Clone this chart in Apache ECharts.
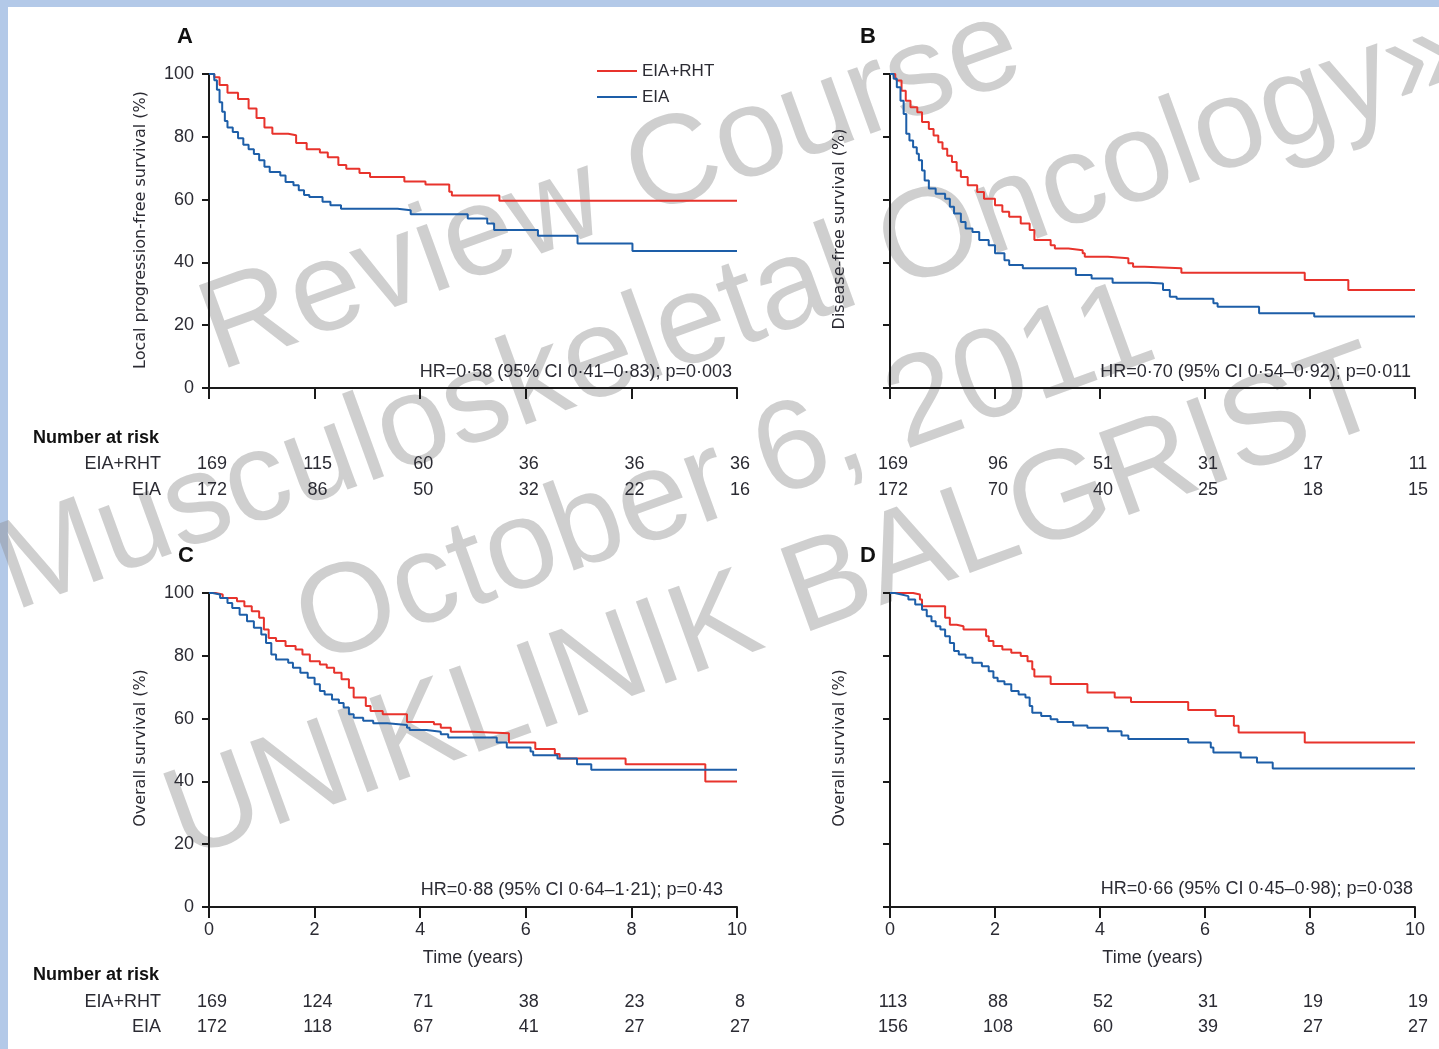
<!DOCTYPE html>
<html>
<head>
<meta charset="utf-8">
<script src="https://cdn.jsdelivr.net/npm/echarts@6/dist/echarts.min.js"></script>
<style>
html,body{margin:0;padding:0;background:#fff;}
#chart{width:1439px;height:1049px;}
</style>
</head>
<body>
<div id="chart"></div>
<script>
// ---------- DATA ----------
const seriesNames = ['EIA+RHT', 'EIA'];
const xTicks = [0, 2, 4, 6, 8, 10];
const yTicks = [0, 20, 40, 60, 80, 100];

// Panel A: local progression-free survival
const aRhtT = [0, 0.1, 0.2, 0.35, 0.55, 0.75, 0.9, 1.05, 1.2, 1.5, 1.65, 1.85, 2.1, 2.25, 2.45, 2.6, 2.85, 3.05, 3.7, 4.1, 4.55, 4.6, 5.5, 10];
const aRhtS = [100, 99, 96.5, 94, 92, 89, 86, 83, 81, 80.5, 78, 76, 75, 73.5, 71, 69.8, 68.5, 67.2, 65.8, 64.8, 62.5, 61.3, 59.6, 59.6];
const aEiaT = [0, 0.1, 0.15, 0.2, 0.25, 0.3, 0.35, 0.45, 0.55, 0.65, 0.75, 0.85, 0.95, 1.05, 1.15, 1.35, 1.45, 1.6, 1.7, 1.8, 1.9, 2.15, 2.3, 2.5, 3.57, 3.82, 4.9, 5.27, 5.4, 6.23, 6.98, 8.02, 10];
const aEiaS = [100, 98, 95, 91, 88, 85, 83, 81.5, 79.5, 77.5, 76, 74.5, 72.5, 70.5, 68.8, 67.7, 65.6, 64.6, 63, 61.5, 60.8, 59.3, 58.2, 57.1, 56.6, 55.3, 54, 52.4, 50.3, 48.5, 46, 43.6, 43.6];

// Panel B: disease-free survival
const bRhtT = [0, 0.1, 0.13, 0.22, 0.3, 0.39, 0.52, 0.61, 0.74, 0.83, 0.92, 1.0, 1.09, 1.18, 1.27, 1.35, 1.48, 1.66, 1.79, 2.0, 2.14, 2.27, 2.49, 2.66, 2.75, 3.06, 3.14, 3.4, 3.67, 3.71, 4.15, 4.54, 4.63, 4.85, 5.55, 7.9, 8.73, 10];
const bRhtS = [100, 99, 97.9, 94.7, 91.5, 89.4, 87.8, 84.7, 82.5, 80.4, 78.3, 76.2, 74, 72, 69.3, 67.2, 64.6, 62.4, 60.3, 58.2, 56.1, 54.5, 52.4, 50.3, 47.1, 45.5, 44.4, 43.9, 42.9, 41.8, 41.3, 39.7, 38.6, 38.1, 36.7, 34.4, 31.2, 31.2];
const bEiaT = [0, 0.07, 0.13, 0.2, 0.26, 0.31, 0.37, 0.44, 0.51, 0.55, 0.61, 0.66, 0.74, 0.87, 1.05, 1.14, 1.22, 1.35, 1.44, 1.57, 1.7, 1.88, 2.0, 2.18, 2.27, 2.53, 3.54, 3.84, 4.24, 4.93, 5.2, 5.33, 5.46, 6.16, 6.24, 7.03, 8.08, 10];
const bEiaS = [100, 98.5, 95.8, 91.5, 87.3, 81, 78.8, 76.7, 74.6, 72.5, 69.3, 66.1, 63.5, 61.9, 60.3, 57.7, 55.6, 52.9, 50.8, 49.7, 47.1, 45.5, 42.9, 40.7, 39.2, 38.1, 36, 34.9, 33.5, 33.3, 31.2, 29.1, 28.4, 27, 25.9, 23.8, 22.8, 22.8];

// Panel C: overall survival
const cRhtT = [0, 0.12, 0.26, 0.53, 0.67, 0.81, 0.95, 1.04, 1.13, 1.27, 1.45, 1.64, 1.77, 1.91, 2.1, 2.23, 2.37, 2.51, 2.65, 2.74, 2.97, 3.06, 3.29, 3.75, 4.26, 4.39, 4.58, 4.99, 5.68, 6.18, 6.55, 6.64, 7.89, 9.4, 10];
const cRhtS = [100, 99.5, 98.4, 97.4, 95.8, 94.2, 92.1, 88.4, 85.7, 84.7, 83.1, 82, 80.4, 78.3, 77.2, 76.2, 74.6, 72.5, 69.8, 66.7, 64, 62.4, 61.4, 58.9, 58.2, 57.1, 55.8, 55.3, 52.4, 50.3, 48.7, 47.3, 45.5, 40, 40];
const cEiaT = [0, 0.07, 0.21, 0.35, 0.44, 0.58, 0.72, 0.85, 0.99, 1.08, 1.18, 1.27, 1.5, 1.59, 1.73, 1.87, 2.0, 2.1, 2.19, 2.33, 2.46, 2.55, 2.65, 2.74, 2.92, 3.11, 3.38, 3.75, 3.8, 4.12, 4.39, 4.53, 5.45, 5.64, 6.09, 6.14, 6.6, 6.97, 7.24, 10];
const cEiaS = [100, 99.5, 98.4, 96.8, 95.2, 93.1, 91, 88.9, 86.8, 84.1, 80.4, 78.8, 77.8, 76.2, 74.6, 73, 70.9, 68.8, 67.7, 66.1, 65, 63.5, 61.4, 60.3, 59.3, 58.5, 58, 57.1, 56.4, 55.8, 55, 54, 52.4, 50.8, 49.5, 48.3, 47.3, 45.5, 43.7, 43.7];

// Panel D: overall survival
const dRhtT = [0, 0.44, 0.57, 0.61, 1.05, 1.14, 1.27, 1.4, 1.83, 1.88, 1.97, 2.14, 2.31, 2.49, 2.62, 2.71, 2.75, 3.06, 3.76, 4.28, 4.59, 5.68, 6.2, 6.55, 6.64, 7.9, 10];
const dRhtS = [100, 99.5, 97.9, 95.8, 92.1, 89.9, 89.4, 88.4, 86.2, 84.7, 83.1, 82, 81, 79.9, 78.3, 75.7, 73.4, 71, 68.3, 66.7, 65.3, 62.7, 60.8, 57.7, 55.6, 52.4, 52.4];
const dEiaT = [0, 0.09, 0.22, 0.35, 0.48, 0.61, 0.7, 0.79, 0.87, 0.96, 1.05, 1.14, 1.22, 1.31, 1.44, 1.57, 1.75, 1.88, 1.97, 2.05, 2.18, 2.31, 2.45, 2.58, 2.66, 2.71, 2.88, 3.06, 3.19, 3.49, 3.76, 4.15, 4.41, 4.54, 5.68, 6.11, 6.16, 6.68, 6.99, 7.29, 10];
const dEiaS = [100, 99.5, 99, 97.9, 96.3, 94.7, 92.6, 91, 89.4, 88.4, 86.2, 84.1, 81.5, 80.4, 79.4, 77.8, 76.7, 75.1, 73, 71.9, 70.9, 68.8, 67.7, 66.7, 64, 61.9, 60.8, 59.8, 58.9, 57.8, 57.1, 56, 54.6, 53.5, 52.4, 50.8, 49.2, 47.6, 46, 44.1, 44.1];

// Numbers at risk (at years 0,2,4,6,8,10)
const aRhtRisk = [169, 115, 60, 36, 36, 36];
const aEiaRisk = [172, 86, 50, 32, 22, 16];
const bRhtRisk = [169, 96, 51, 31, 17, 11];
const bEiaRisk = [172, 70, 40, 25, 18, 15];
const cRhtRisk = [169, 124, 71, 38, 23, 8];
const cEiaRisk = [172, 118, 67, 41, 27, 27];
const dRhtRisk = [113, 88, 52, 31, 19, 19];
const dEiaRisk = [156, 108, 60, 39, 27, 27];

const panelLetters = ['A', 'B', 'C', 'D'];
const yTitles = ['Local progression-free survival (%)', 'Disease-free survival (%)', 'Overall survival (%)', 'Overall survival (%)'];
const hrTexts = [
  'HR=0·58 (95% CI 0·41–0·83); p=0·003',
  'HR=0·70 (95% CI 0·54–0·92); p=0·011',
  'HR=0·88 (95% CI 0·64–1·21); p=0·43',
  'HR=0·66 (95% CI 0·45–0·98); p=0·038'
];
const xTitle = 'Time (years)';
const riskTitle = 'Number at risk';
const watermarkLines = ['Review Course', 'Musculoskeletal Oncology»', 'October 6, 2011', 'UNIKLINIK BALGRIST'];

// ---------- CHART ----------
const RED = '#e8332c', BLUE = '#1d5ea8', INK = '#2b2b33', AXIS = '#1a1a1a';
const FONT = '"Liberation Sans", Arial, sans-serif';

const grids = [
  {left: 209, top: 74, width: 528, height: 314},
  {left: 890, top: 74, width: 525, height: 314},
  {left: 209, top: 593, width: 528, height: 314},
  {left: 890, top: 593, width: 525, height: 314}
];
const zip = (t, s) => t.map((v, i) => [v, s[i]]);
const curves = [
  [zip(aRhtT, aRhtS), zip(aEiaT, aEiaS)],
  [zip(bRhtT, bRhtS), zip(bEiaT, bEiaS)],
  [zip(cRhtT, cRhtS), zip(cEiaT, cEiaS)],
  [zip(dRhtT, dRhtS), zip(dEiaT, dEiaS)]
];
const risks = [[aRhtRisk, aEiaRisk], [bRhtRisk, bEiaRisk], [cRhtRisk, cEiaRisk], [dRhtRisk, dEiaRisk]];

const chart = echarts.init(document.getElementById('chart'), null, {renderer: 'canvas'});

const xAxes = grids.map((g, i) => ({
  gridIndex: i, type: 'value', min: 0, max: 10, interval: 2, z: 4,
  axisLine: {show: true, onZero: false, lineStyle: {color: AXIS, width: 2}},
  axisTick: {show: true, length: 11, lineStyle: {color: AXIS, width: 2}},
  splitLine: {show: false},
  axisLabel: {show: i >= 2, margin: 14, fontSize: 18, color: INK, fontFamily: FONT},
  name: i >= 2 ? xTitle : '', nameLocation: 'middle', nameGap: 42,
  nameTextStyle: {fontSize: 18, color: INK, fontFamily: FONT}
}));
const yAxes = grids.map((g, i) => ({
  gridIndex: i, type: 'value', min: 0, max: 100, interval: 20, z: 4,
  axisLine: {show: true, lineStyle: {color: AXIS, width: 2}},
  axisTick: {show: true, length: 7, lineStyle: {color: AXIS, width: 2}},
  splitLine: {show: false},
  axisLabel: {show: i % 2 === 0, margin: 15, fontSize: 18, color: INK, fontFamily: FONT}
}));
const series = [];
curves.forEach((pair, i) => {
  pair.forEach((data, k) => {
    series.push({
      name: seriesNames[k], type: 'line', step: 'end', xAxisIndex: i, yAxisIndex: i,
      data: data, showSymbol: false, symbol: 'none', z: 5, animation: false,
      lineStyle: {color: k === 0 ? RED : BLUE, width: 2},
      itemStyle: {color: k === 0 ? RED : BLUE}
    });
  });
});

chart.setOption({
  animation: false,
  backgroundColor: '#ffffff',
  grid: grids.map(g => Object.assign({containLabel: false}, g)),
  xAxis: xAxes,
  yAxis: yAxes,
  legend: {
    data: seriesNames, orient: 'vertical', left: 597, top: 61, padding: 0,
    itemWidth: 40, itemHeight: 2, itemGap: 6, icon: 'rect',
    textStyle: {fontSize: 17, color: INK, fontFamily: FONT, lineHeight: 20},
    selectedMode: false
  },
  series: series
});

// ---------- TEXT & DECORATION ----------
const g = [];
// light blue frame
g.push({type: 'rect', z: 0, shape: {x: 0, y: 0, width: 8, height: 1049}, style: {fill: '#b3c9e8'}});
g.push({type: 'rect', z: 0, shape: {x: 0, y: 0, width: 1439, height: 7}, style: {fill: '#b3c9e8'}});

const letterPos = [[185, 37], [868, 37], [186, 556], [868, 556]];
const yTitlePos = [[141, 230], [840, 229], [141, 748], [840, 748]];
const hrPos = [[732, 372], [1411, 372], [723, 890], [1413, 889]];
grids.forEach((gr, i) => {
  g.push({type: 'text', z: 10, x: letterPos[i][0], y: letterPos[i][1],
    style: {text: panelLetters[i], font: 'bold 22px ' + FONT, fill: '#111', align: 'center', verticalAlign: 'middle'}});
  g.push({type: 'text', z: 10, x: yTitlePos[i][0], y: yTitlePos[i][1], rotation: Math.PI / 2,
    style: {text: yTitles[i], font: '16px "DejaVu Sans", sans-serif', fill: INK, align: 'center', verticalAlign: 'middle'}});
  g.push({type: 'text', z: 10, x: hrPos[i][0], y: hrPos[i][1],
    style: {text: hrTexts[i], font: '18px ' + FONT, fill: INK, align: 'right', verticalAlign: 'middle'}});
});

// numbers at risk
const riskRows = [[464, 490], [464, 490], [1002, 1027], [1002, 1027]];
[438, 975].forEach(y => {
  g.push({type: 'text', z: 10, x: 33, y: y,
    style: {text: riskTitle, font: 'bold 18px ' + FONT, fill: '#111', align: 'left', verticalAlign: 'middle'}});
});
[0, 2].forEach(i => {
  seriesNames.forEach((nm, k) => {
    g.push({type: 'text', z: 10, x: 161, y: riskRows[i][k],
      style: {text: nm, font: '18px ' + FONT, fill: INK, align: 'right', verticalAlign: 'middle'}});
  });
});
risks.forEach((pair, i) => {
  pair.forEach((arr, k) => {
    arr.forEach((n, j) => {
      const px = chart.convertToPixel({xAxisIndex: i}, xTicks[j]);
      g.push({type: 'text', z: 10, x: px + 3, y: riskRows[i][k],
        style: {text: String(n), font: '18px ' + FONT, fill: INK, align: 'center', verticalAlign: 'middle'}});
    });
  });
});

// watermark
const ang = 20 * Math.PI / 180;
const wmPos = [[207, 338], [2, 578], [302, 632], [172, 826]];
watermarkLines.forEach((t, i) => {
  g.push({type: 'text', z: 1, x: wmPos[i][0], y: wmPos[i][1], rotation: ang,
    style: {text: t, font: '127px ' + FONT, fill: 'rgba(140,140,140,0.42)', align: 'left', verticalAlign: 'middle'}});
});

chart.setOption({graphic: {elements: g}});
</script>
</body>
</html>
